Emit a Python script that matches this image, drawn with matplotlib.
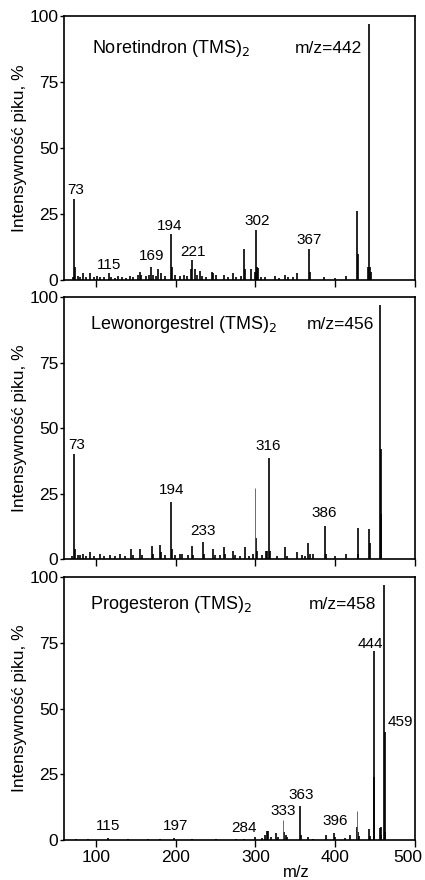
import matplotlib
matplotlib.use("Agg")
import matplotlib.pyplot as plt
import matplotlib.transforms as mtransforms

plt.rcParams['font.family'] = ['Liberation Sans', 'DejaVu Sans']

# ---------------- data ----------------
# Noretindron (TMS)2
nor_mz = [71, 73, 74, 77, 80, 84, 88, 92, 97, 101, 105, 110, 116, 119, 124, 128, 133, 138, 143, 147,
          153, 155, 157, 163, 166, 169, 171, 175, 178, 181, 187, 194, 196, 199, 205, 210, 214, 219, 221, 224,
          227, 230, 233, 238, 245, 247, 251, 260, 265, 272, 276, 282, 286, 287, 294, 299, 301, 302, 303, 307,
          312, 324, 330, 337, 341, 347, 352, 367, 368, 386, 400, 414, 427, 428, 441, 442, 443, 445]
nor_int = [1, 30.5, 5, 1.5, 1.2, 2.7, 1, 2.5, 1, 1.5, 1, 1, 2.5, 1, 0.8, 1.5, 1, 0.8, 1.5, 1.2,
           2, 3, 2, 1.5, 2, 5, 2, 1.5, 4, 2.5, 1.5, 17.4, 5, 2, 1.5, 2, 1.5, 4, 7.6, 4,
           2, 3.5, 1.5, 1.2, 3, 2.5, 2, 2, 1, 2.5, 1, 1.5, 11.6, 4, 4, 3, 19, 5, 4.5, 1,
           1, 1.5, 0.8, 2, 1, 1, 2.5, 11.6, 3, 1, 0.8, 1.5, 26, 10, 5, 97, 5, 3]
nor_thin_mz = []
nor_thin_int = []

# Lewonorgestrel (TMS)2
lew_mz = [70, 73, 74, 77, 80, 84, 88, 92, 97, 105, 110, 118, 124, 130, 136, 144, 147, 155, 158, 170,
          172, 180, 182, 187, 194, 196, 199, 205, 208, 215, 220, 222, 234, 236, 247, 249, 255, 260, 262, 272,
          274, 280, 287, 292, 297, 301, 302, 308, 313, 315, 317, 318, 327, 337, 340, 352, 358, 362, 366, 368,
          372, 387, 388, 400, 414, 428, 429, 442, 443, 456, 457, 458]
lew_int = [1, 40, 4, 1.5, 1.5, 2, 1, 2.5, 1, 2, 1, 1.5, 1, 2, 1, 4, 1.5, 4, 1.5, 5,
           2, 5.5, 2.5, 1.5, 21.6, 4, 1.5, 2, 2, 1.5, 5, 1.5, 6.4, 2, 4, 1.5, 1.5, 4.5, 2, 3,
           1.5, 1, 4.5, 1, 2, 8, 3, 1.5, 3, 3, 38.7, 3, 1, 4.5, 1, 2.5, 1.5, 1, 6, 2,
           2, 12.7, 2, 1, 2, 12, 2, 11.4, 6, 97, 42, 17]
lew_thin_mz = [300]
lew_thin_int = [27]

# Progesteron (TMS)2
pro_mz = [75, 90, 115, 140, 165, 180, 198, 220, 250, 275, 286, 299, 308, 312, 314, 316, 319, 326, 328, 336,
          338, 340, 356, 357, 366, 372, 389, 398, 400, 412, 418, 427, 428, 430, 442, 444, 448, 449, 456, 457,
          458, 461, 462, 463]
pro_int = [0.3, 0.3, 0.6, 0.3, 0.3, 0.4, 0.6, 0.3, 0.3, 0.4, 0.5, 1, 0.8, 2, 3.5, 3.5, 1, 2.7, 1, 3,
           2, 1, 13, 2, 1, 0.5, 2, 2.7, 1, 0.8, 2, 5, 3, 1.5, 4, 1.5, 72, 24, 4.5, 5,
           2, 97, 41, 3]
pro_thin_mz = [334, 427]
pro_thin_int = [7.5, 11]

# annotations
titles = ["Noretindron (TMS)$_2$", "Lewonorgestrel (TMS)$_2$", "Progesteron (TMS)$_2$"]
ions = ["m/z=442", "m/z=456", "m/z=458"]

nor_lbl = ["73", "115", "169", "194", "221", "302", "367"]
nor_lbl_x = [75, 116.7, 169.3, 192.7, 221.5, 301.7, 367.3]
nor_lbl_y = [31.4, 3.1, 6.3, 17.9, 7.8, 19.6, 12.6]

lew_lbl = ["73", "194", "233", "316", "386"]
lew_lbl_x = [75.3, 194.4, 234, 316.3, 386.5]
lew_lbl_y = [41, 23.5, 7.9, 40.6, 14.9]

pro_lbl = ["115", "197", "284", "333", "363", "396", "444", "459"]
pro_lbl_x = [115.8, 200.2, 286.2, 335, 357.3, 399.9, 444.6, 481.3]
pro_lbl_y = [2.5, 2.5, 2.0, 8.5, 14.5, 4.4, 74.5, 45]

xticks = [100, 200, 300, 400, 500]
yticks = [0, 25, 50, 75, 100]

# ---------------- figure ----------------
fig = plt.figure(figsize=(4.25, 8.8), dpi=100)
W, H = 425.0, 880.0
left, right = 64 / W, 415 / W
boxes = [(16, 280), (297, 559), (577, 840)]

spectra = [
    (nor_mz, nor_int, nor_thin_mz, nor_thin_int, nor_lbl, nor_lbl_x, nor_lbl_y),
    (lew_mz, lew_int, lew_thin_mz, lew_thin_int, lew_lbl, lew_lbl_x, lew_lbl_y),
    (pro_mz, pro_int, pro_thin_mz, pro_thin_int, pro_lbl, pro_lbl_x, pro_lbl_y),
]
title_pos = [(0.08, 0.875), (0.075, 0.895), (0.075, 0.894)]
ion_pos = [(0.85, 0.875), (0.885, 0.895), (0.89, 0.894)]

for i, ((top, bot), spec) in enumerate(zip(boxes, spectra)):
    mz, inten, tmz, tint, lbl, lx, ly = spec
    ax = fig.add_axes([left, 1 - bot / H, right - left, (bot - top) / H])
    ax.vlines(mz, 0, inten, colors='black', linewidth=1.2)
    if tmz:
        ax.vlines(tmz, 0, tint, colors='#555555', linewidth=0.6)
    ax.set_xlim(60, 500)
    ax.set_ylim(0, 100)
    ax.set_xticks(xticks)
    ax.set_yticks(yticks)
    ax.tick_params(axis='both', direction='out', labelsize=12.5, width=1, colors='black')
    ax.tick_params(axis='y', length=3, pad=1)
    ax.tick_params(axis='x', length=5, pad=2)
    if i < 2:
        ax.set_xticklabels([])
    else:
        lab = ax.get_xticklabels()[-1]
        lab.set_transform(lab.get_transform() +
                          mtransforms.ScaledTranslation(-5 / 72, 0, fig.dpi_scale_trans))
    for s in ax.spines.values():
        s.set_linewidth(1.2)
    ax.set_ylabel("Intensywność piku, %", fontsize=12.5)
    ax.yaxis.set_label_coords(-0.105, 0.5)
    for t, x, y in zip(lbl, lx, ly):
        va = 'center' if (i == 2 and y > 30) else 'bottom'
        ax.text(x, y, t, ha='center', va=va, fontsize=11)
    tx, ty = title_pos[i]
    ax.text(tx, ty, titles[i], transform=ax.transAxes, ha='left', va='center', fontsize=13)
    ix, iy = ion_pos[i]
    ax.text(ix, iy, ions[i], transform=ax.transAxes, ha='right', va='center', fontsize=12.5)

fig.text(296 / W, 1 - 872 / H, "m/z", ha='center', va='center', fontsize=12)

fig.savefig("out.png", dpi=100)
